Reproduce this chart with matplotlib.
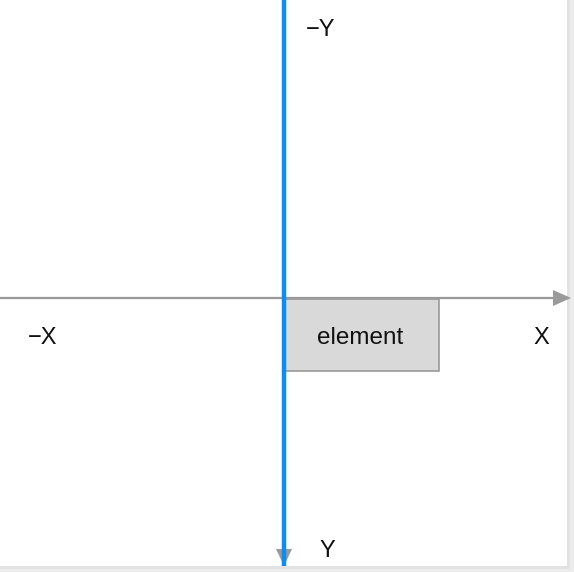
import matplotlib.pyplot as plt
from matplotlib.patches import Rectangle, Polygon

# diagram text
axis_labels = ["\u2212X", "X", "\u2212Y", "Y"]
box_label = "element"

W, H = 574, 572

plt.rcParams["font.family"] = ["Liberation Sans", "DejaVu Sans"]

fig = plt.figure(figsize=(W / 100, H / 100), dpi=100)
fig.patch.set_facecolor("#ececec")
ax = fig.add_axes([0, 0, 1, 1])
ax.set_xlim(0, W)
ax.set_ylim(H, 0)
ax.axis("off")

# white canvas with a faint shadow on right/bottom
ax.add_patch(Rectangle((0, 0), 570, 569, facecolor="#e2e2e2", edgecolor="none"))
ax.add_patch(Rectangle((0, 0), 567, 566, facecolor="white", edgecolor="none"))

gray = "#9a9a9a"
blue = "#0a8ef5"

# horizontal axis with arrow
ax.plot([0, 556], [298, 298], color=gray, lw=1.6, solid_capstyle="butt")
ax.add_patch(Polygon([[553, 290], [571, 298], [553, 306]], closed=True,
                     facecolor=gray, edgecolor="none"))

# element box
ax.add_patch(Rectangle((285, 299), 154, 72, facecolor="#d9d9d9",
                       edgecolor=gray, lw=1.2))
ax.text(360, 338, box_label, ha="center", va="center", fontsize=17.5, color="#111111")

# vertical axis arrow head then blue line on top
ax.add_patch(Polygon([[276, 549], [292, 549], [284, 566]], closed=True,
                     facecolor=gray, edgecolor="none"))
ax.plot([284, 284], [0, 566], color=blue, lw=3.2, solid_capstyle="butt")

# axis labels
label_pos = [(43, 338), (541, 338), (321, 30), (327, 551)]
for txt, (x, y) in zip(axis_labels, label_pos):
    ax.text(x, y, txt, ha="center", va="center", fontsize=17, color="#111111")

fig.savefig("out.png", dpi=100, facecolor=fig.get_facecolor())
